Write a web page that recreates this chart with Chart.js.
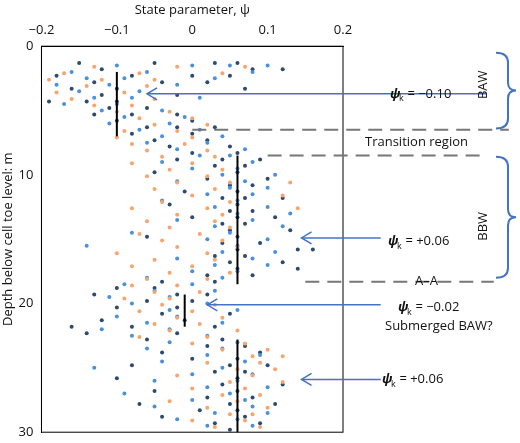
<!DOCTYPE html>
<html lang="en">
<head>
  <meta charset="UTF-8" />
  <title>State parameter profile</title>
  <script src="https://cdn.jsdelivr.net/npm/chart.js"></script>
  <style>
    body { margin: 0; background: #fff; }
  </style>
</head>
<body>
  <canvas id="psiChart" width="520" height="443"></canvas>
  <script>
    // depth (m) -> list of psi values
    const navyRows = [
      [1.3,[-0.15,-0.05,0.03,0.06]],[1.8,[-0.12,0.08,0.12]],[2.3,[-0.18,-0.08,0.0,0.05]],[2.8,[-0.13,-0.04,0.02]],
      [3.3,[-0.16,-0.1,0.07]],[3.8,[-0.12,-0.02]],[4.3,[-0.19,-0.14,-0.1]],[4.8,[-0.11,-0.06]],
      [5.3,[-0.13,-0.08,-0.02]],[5.8,[-0.1,0.0]],[6.3,[-0.06,-0.02,0.03]],[6.8,[-0.08,0.0]],
      [7.3,[-0.05,0.02]],[7.8,[-0.03,0.05]],[8.3,[0.0,0.06]],[8.8,[-0.02,0.04,0.09]],
      [9.3,[0.03,0.07]],[9.8,[-0.05,0.06]],[10.3,[0.02,0.1]],[10.8,[0.05,0.08]],
      [11.3,[-0.01,0.06]],[11.8,[0.04,0.07,0.12]],[12.3,[0.06,-0.03]],[12.8,[0.05,0.08]],
      [13.3,[0.0,0.06,0.11]],[13.8,[0.07,0.04]],[14.3,[0.05,0.13]],[14.8,[-0.06,0.06]],
      [15.3,[0.04,0.09]],[15.8,[0.06,0.14,0.16]],[16.3,[0.03,0.07]],[16.8,[0.05,0.12]],
      [17.3,[0.06,0.14]],[17.8,[0.02,0.08]],[18.3,[-0.04,0.03]],[18.8,[-0.1,-0.05]],
      [19.3,[-0.13,-0.02,0.02]],[19.8,[-0.06,0.0]],[20.3,[-0.1,-0.02]],[20.8,[-0.04,0.05]],
      [21.3,[-0.12,-0.01]],[21.8,[-0.16,-0.08,0.03]],[22.3,[-0.14,-0.02]],[22.8,[-0.06,0.04]],
      [23.3,[0.02,0.07]],[23.8,[-0.04,0.09]],[24.3,[0.0,0.06]],[24.8,[-0.08,0.05,0.1]],
      [25.3,[0.03,0.07]],[25.8,[-0.1,0.06]],[26.3,[0.04,0.12]],[26.8,[-0.05,0.06]],
      [27.3,[0.02,0.08]],[27.8,[-0.07,0.05,0.11]],[28.3,[0.01,0.06]],[28.8,[-0.04,0.07]],
      [29.3,[0.03,0.09]],[29.8,[0.05]]
    ];
    const blueRows = [
      [1.5,[-0.1,0.0,0.05,0.1]],[2.0,[-0.16,-0.06,0.08]],[2.5,[-0.14,-0.09,0.03]],[3.0,[-0.18,-0.11,-0.02]],
      [3.5,[-0.15,-0.07]],[4.0,[-0.13,-0.08,0.01]],[4.5,[-0.17,-0.1]],[5.0,[-0.12,-0.04]],
      [5.5,[-0.09,-0.01]],[6.0,[-0.11,-0.03]],[6.5,[-0.07,0.01]],[7.0,[-0.04,0.04]],
      [7.5,[-0.06,0.02]],[8.0,[-0.02,0.07]],[8.5,[0.01,0.05]],[9.0,[-0.04,0.08]],
      [9.5,[0.0,0.06]],[10.0,[0.04,0.11]],[10.5,[-0.02,0.07]],[11.0,[0.05,0.1]],
      [11.5,[0.02,0.08]],[12.0,[-0.04,0.06]],[12.5,[0.03,0.1]],[13.0,[0.06,0.13]],
      [13.5,[-0.02,0.08]],[14.0,[0.03,0.12]],[14.5,[-0.08,0.05]],[15.0,[0.02,0.1]],
      [15.5,[-0.14,0.06]],[16.0,[0.04,0.11]],[16.5,[-0.02,0.08]],[17.0,[0.03,0.1]],
      [17.5,[0.0,0.06]],[18.0,[-0.06,0.04]],[18.5,[-0.09,0.0]],[19.0,[-0.05,0.03]],
      [19.5,[-0.11,-0.03]],[20.0,[-0.08,0.02]],[20.5,[-0.03,0.06]],[21.0,[-0.1,-0.02]],
      [21.5,[-0.06,0.04]],[22.0,[-0.12,-0.03]],[22.5,[-0.08,0.02]],[23.0,[-0.03,0.06]],
      [23.5,[-0.06,0.04]],[24.0,[0.02,0.09]],[24.5,[-0.04,0.07]],[25.0,[-0.13,0.04]],
      [25.5,[0.0,0.08]],[26.0,[-0.05,0.06]],[26.5,[0.02,0.1]],[27.0,[-0.09,0.05]],
      [27.5,[0.0,0.07]],[28.0,[-0.05,0.08]],[28.5,[0.03,0.1]],[29.0,[-0.02,0.06]],[29.5,[0.02,0.08]]
    ];
    const orangeRows = [
      [1.6,[-0.13,-0.02,0.07]],[2.1,[-0.17,-0.07,0.04]],[2.6,[-0.19,-0.12,-0.05]],[3.1,[-0.14,-0.06]],
      [3.6,[-0.18,-0.09]],[4.1,[-0.16,-0.05]],[4.6,[-0.13,-0.08]],[5.1,[-0.1,-0.03]],
      [5.6,[-0.07,0.0]],[6.1,[-0.05,0.02]],[6.6,[-0.09,-0.02]],[7.1,[-0.1,0.0]],
      [7.6,[-0.08,-0.01]],[8.1,[-0.06,0.02]],[8.6,[-0.04,0.03]],[9.1,[-0.08,0.0]],
      [9.6,[-0.03,0.04]],[10.1,[-0.06,0.02]],[10.6,[-0.02,0.05,0.13]],[11.1,[-0.05,0.03]],
      [11.6,[0.0,0.12]],[12.1,[-0.04,0.05]],[12.6,[-0.08,0.02,0.14]],[13.1,[-0.02,0.04]],
      [13.6,[-0.06,0.03]],[14.1,[-0.03,0.05]],[14.6,[-0.07,0.01]],[15.1,[-0.04,0.04]],
      [15.6,[-0.02,0.06]],[16.1,[-0.1,0.02]],[16.6,[-0.05,0.03]],[17.1,[-0.08,0.0]],
      [17.6,[-0.03,0.05]],[18.1,[-0.06,0.02]],[18.6,[-0.08,-0.02]],[19.1,[-0.05,0.01]],
      [19.6,[-0.09,-0.03]],[20.1,[-0.04,0.03]],[20.6,[-0.07,0.0]],[21.1,[-0.02,0.04]],
      [21.6,[-0.05,0.01]],[22.1,[-0.03,0.06]],[22.6,[-0.07,0.02]],[23.1,[0.0,0.07]],
      [23.6,[0.04,0.1]],[24.1,[0.08,0.12]],[24.6,[0.02,0.09]],[25.1,[0.06,0.11]],
      [25.6,[-0.02,0.08]],[26.1,[0.05,0.12]],[26.6,[0.0,0.07]],[27.1,[0.04,0.09]],
      [27.6,[-0.03,0.06]],[28.1,[0.02,0.1]],[28.6,[0.05,0.08]],[29.1,[0.0,0.07]],[29.6,[0.03,0.09]]
    ];

    // characteristic psi lines: [psi, fromDepth, toDepth]
    const psiKLines = [[-0.1, 2, 7], [0.06, 8.5, 18.5], [-0.01, 19.3, 21.8], [0.06, 22.8, 30]];
    // dashed boundaries: [depth, fromPsi, toPsi]
    const boundaries = [[6.5, 0.0, 0.42], [8.5, 0.1, 0.39], [18.3, 0.15, 0.4]];
    // arrows: [depth, tipPsi, tailPsi]
    const arrows = [[3.7, -0.06, 0.39], [14.9, 0.145, 0.25], [20.1, 0.02, 0.25], [25.9, 0.145, 0.25]];

    const toPoints = rows => rows.flatMap(([d, ps]) => ps.map(p => ({ x: p, y: d })));

    const annotate = {
      id: "annotate",
      afterDraw(chart) {
        const { ctx, chartArea: a, scales: { x, y } } = chart;
        ctx.save();
        ctx.strokeStyle = "#000"; ctx.lineWidth = 1;
        ctx.strokeRect(a.left, a.top, a.right - a.left, a.bottom - a.top);

        ctx.lineWidth = 2;
        psiKLines.forEach(([p, d0, d1]) => {
          ctx.beginPath(); ctx.moveTo(x.getPixelForValue(p), y.getPixelForValue(d0));
          ctx.lineTo(x.getPixelForValue(p), y.getPixelForValue(d1)); ctx.stroke();
        });

        ctx.strokeStyle = "#777"; ctx.setLineDash([14, 8]); ctx.lineWidth = 2;
        boundaries.forEach(([d, p0, p1]) => {
          ctx.beginPath(); ctx.moveTo(x.getPixelForValue(p0), y.getPixelForValue(d));
          ctx.lineTo(x.getPixelForValue(p1), y.getPixelForValue(d)); ctx.stroke();
        });
        ctx.setLineDash([]);

        ctx.strokeStyle = "#4472c4"; ctx.lineWidth = 1.5;
        arrows.forEach(([d, tip, tail]) => {
          const yy = y.getPixelForValue(d), xt = x.getPixelForValue(tip), xs = x.getPixelForValue(tail);
          ctx.beginPath(); ctx.moveTo(xs, yy); ctx.lineTo(xt, yy); ctx.stroke();
          ctx.beginPath(); ctx.moveTo(xt + 10, yy - 6); ctx.lineTo(xt, yy); ctx.lineTo(xt + 10, yy + 6); ctx.stroke();
        });

        ctx.fillStyle = "#111"; ctx.textBaseline = "middle";
        const label = (lbl, px, py) => {
          ctx.font = "italic bold 13px 'Open Sans'"; ctx.fillText("ψ", px, py);
          ctx.font = "9px 'Open Sans'"; ctx.fillText("k", px + 9, py + 5);
          ctx.font = "13px 'Open Sans'"; ctx.fillText(" = " + lbl, px + 14, py);
        };
        label("−0.10", 390, y.getPixelForValue(3.7));
        label("+0.06", 388, y.getPixelForValue(15.2));
        label("−0.02", 398, y.getPixelForValue(20.3));
        label("+0.06", 382, y.getPixelForValue(25.9));
        ctx.font = "13px 'Open Sans'";
        ctx.fillText("Transition region", 365, y.getPixelForValue(7.5));
        ctx.fillText("Submerged BAW?", 385, y.getPixelForValue(21.8));
        ctx.fillText("A–A", 415, y.getPixelForValue(18.3));

        ctx.textAlign = "center";
        [["BAW", 3.0], ["BBW", 14.0]].forEach(([t, d]) => {
          ctx.save(); ctx.translate(483, y.getPixelForValue(d)); ctx.rotate(-Math.PI / 2);
          ctx.fillText(t, 0, 0); ctx.restore();
        });

        ctx.strokeStyle = "#4472c4"; ctx.lineWidth = 2;
        [[0.5, 6.4], [8.6, 18.0]].forEach(([d0, d1]) => {
          const y0 = y.getPixelForValue(d0), y1 = y.getPixelForValue(d1), ym = (y0 + y1) / 2;
          ctx.beginPath();
          ctx.moveTo(496, y0); ctx.quadraticCurveTo(508, y0, 508, y0 + 10);
          ctx.lineTo(508, ym - 8); ctx.quadraticCurveTo(508, ym, 516, ym);
          ctx.quadraticCurveTo(508, ym, 508, ym + 8);
          ctx.lineTo(508, y1 - 10); ctx.quadraticCurveTo(508, y1, 496, y1);
          ctx.stroke();
        });
        ctx.restore();
      }
    };

    const dot = (label, rows, color) => ({
      label, data: toPoints(rows), backgroundColor: color, borderColor: color,
      pointRadius: 2, pointHoverRadius: 2, borderWidth: 0
    });

    new Chart(document.getElementById("psiChart"), {
      type: "scatter",
      data: {
        datasets: [
          dot("Series 1", orangeRows, "#f8a46c"),
          dot("Series 2", blueRows, "#4a90dc"),
          dot("Series 3", navyRows, "#2c4b6e")
        ]
      },
      options: {
        animation: false, responsive: false,
        layout: { padding: { right: 177, bottom: 4 } },
        plugins: { legend: { display: false }, tooltip: { enabled: false } },
        scales: {
          x: {
            position: "top", min: -0.2, max: 0.2,
            ticks: { stepSize: 0.1, color: "#111", font: { family: "Open Sans", size: 13 },
              callback: v => Math.abs(v) < 1e-9 ? "0" : String(Math.round(v * 10) / 10).replace("-", "−") },
            grid: { display: false, tickLength: 5 },
            border: { color: "#000" },
            title: { display: true, text: "State parameter, ψ", color: "#111", font: { family: "Open Sans", size: 13 }, padding: 2 }
          },
          y: {
            reverse: true, min: 0, max: 30,
            ticks: { stepSize: 10, color: "#111", font: { family: "Open Sans", size: 13 } },
            grid: { display: false, tickLength: 5 },
            border: { color: "#000" },
            title: { display: true, text: "Depth below cell toe level: m", color: "#111", font: { family: "Open Sans", size: 13 }, padding: 0 }
          }
        }
      },
      plugins: [annotate]
    });
  </script>
</body>
</html>
